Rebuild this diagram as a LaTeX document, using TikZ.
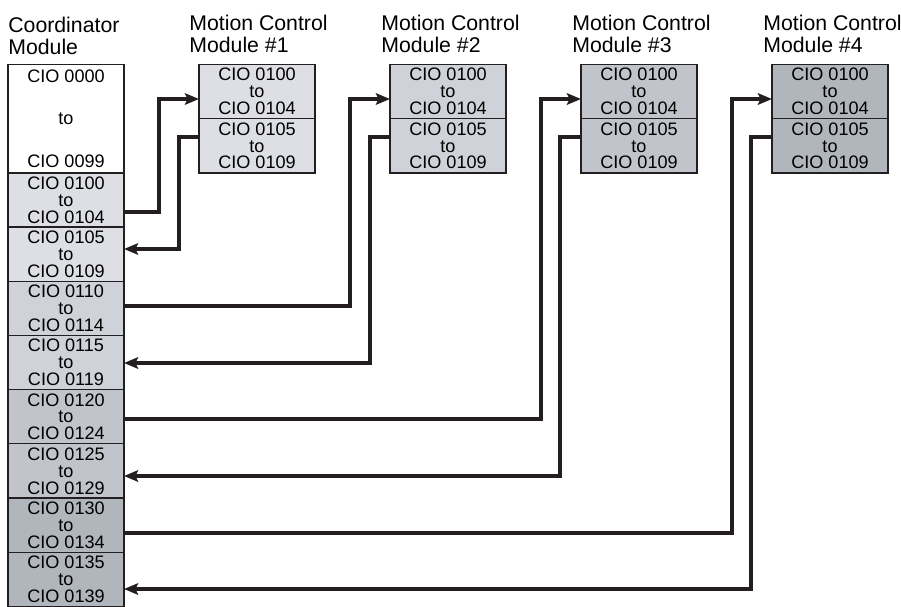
\documentclass[tikz,border=0pt]{standalone}
\usepackage{fontspec}
\setmainfont{Liberation Sans}
\usetikzlibrary{arrows.meta,positioning}

\definecolor{ink}{RGB}{35,31,32}
\definecolor{modA}{RGB}{221,223,228}
\definecolor{modB}{RGB}{207,210,216}
\definecolor{modC}{RGB}{193,197,203}
\definecolor{modD}{RGB}{177,182,189}

\tikzset{
  seg/.style={draw=ink, line width=0.7pt, minimum width=2.32cm, minimum height=1.084cm,
    inner sep=0pt, outer sep=0pt, align=center, font=\fontsize{10.3}{9.6}\selectfont},
  head/.style={anchor=north west, align=left, inner sep=0pt, font=\fontsize{12.1}{12.4}\selectfont},
  link/.style={draw=ink, line width=2pt, -{Stealth[length=8pt,width=6.5pt,inset=1.5pt]}}
}

\begin{document}
\begin{tikzpicture}[x=0.02cm,y=-0.02cm]
\useasboundingbox (0,0) rectangle (901,606);

% headings
\node[head] (hco) at (8,17) {Coordinator\\Module};
\node[head] (hm1) at (189,15) {Motion Control\\Module \#1};
\node[head] (hm2) at (381,15) {Motion Control\\Module \#2};
\node[head] (hm3) at (572,15) {Motion Control\\Module \#3};
\node[head] (hm4) at (763,15) {Motion Control\\Module \#4};

% coordinator module
\node[seg, fill=white, minimum height=2.168cm, anchor=north] (cio0000) at (66,64.5) {CIO 0000\\[14.8pt]to\\[14.8pt]CIO 0099};
\node[seg, fill=modA, below=0pt of cio0000] (cio0100) {CIO 0100\\to\\CIO 0104};
\node[seg, fill=modA, below=0pt of cio0100] (cio0105) {CIO 0105\\to\\CIO 0109};
\node[seg, fill=modB, below=0pt of cio0105] (cio0110) {CIO 0110\\to\\CIO 0114};
\node[seg, fill=modB, below=0pt of cio0110] (cio0115) {CIO 0115\\to\\CIO 0119};
\node[seg, fill=modC, below=0pt of cio0115] (cio0120) {CIO 0120\\to\\CIO 0124};
\node[seg, fill=modC, below=0pt of cio0120] (cio0125) {CIO 0125\\to\\CIO 0129};
\node[seg, fill=modD, below=0pt of cio0125] (cio0130) {CIO 0130\\to\\CIO 0134};
\node[seg, fill=modD, below=0pt of cio0130] (cio0135) {CIO 0135\\to\\CIO 0139};

% motion control modules
\node[seg, fill=modA, anchor=north] (m1a) at (257,64.5) {CIO 0100\\to\\CIO 0104};
\node[seg, fill=modA, below=0pt of m1a] (m1b) {CIO 0105\\to\\CIO 0109};
\node[seg, fill=modB, anchor=north] (m2a) at (448,64.5) {CIO 0100\\to\\CIO 0104};
\node[seg, fill=modB, below=0pt of m2a] (m2b) {CIO 0105\\to\\CIO 0109};
\node[seg, fill=modC, anchor=north] (m3a) at (639,64.5) {CIO 0100\\to\\CIO 0104};
\node[seg, fill=modC, below=0pt of m3a] (m3b) {CIO 0105\\to\\CIO 0109};
\node[seg, fill=modD, anchor=north] (m4a) at (830,64.5) {CIO 0100\\to\\CIO 0104};
\node[seg, fill=modD, below=0pt of m4a] (m4b) {CIO 0105\\to\\CIO 0109};

% links
\draw[link] (cio0100.east |- 0,212) -| (159,99) -- (m1a.west |- 0,99);
\draw[link] (m1b.west |- 0,137) -| (179,249) -- (cio0105.east |- 0,249);
\draw[link] (cio0110.east |- 0,306) -| (350,99) -- (m2a.west |- 0,99);
\draw[link] (m2b.west |- 0,137) -| (370,363) -- (cio0115.east |- 0,363);
\draw[link] (cio0120.east |- 0,419) -| (541,99) -- (m3a.west |- 0,99);
\draw[link] (m3b.west |- 0,137) -| (560,476) -- (cio0125.east |- 0,476);
\draw[link] (cio0130.east |- 0,533) -| (732,99) -- (m4a.west |- 0,99);
\draw[link] (m4b.west |- 0,137) -| (751,589) -- (cio0135.east |- 0,589);
\end{tikzpicture}
\end{document}
